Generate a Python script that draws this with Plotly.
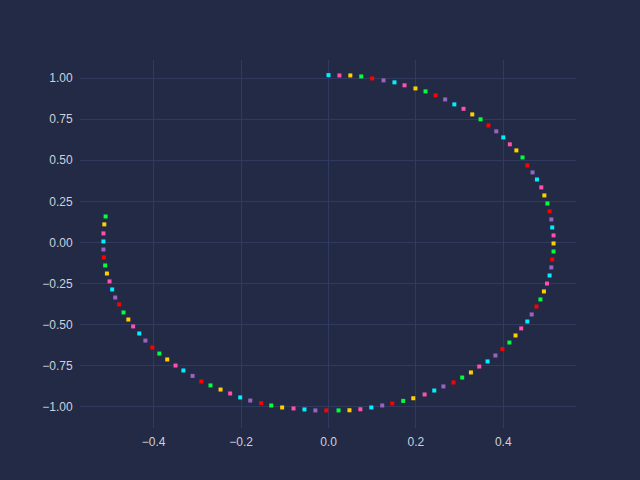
import plotly.graph_objects as go

x_vals = [0.000, 0.025, 0.050, 0.075, 0.100, 0.126, 0.151, 0.174, 0.199, 0.222,
          0.245, 0.267, 0.288, 0.309, 0.329, 0.348, 0.366, 0.384, 0.400, 0.415,
          0.430, 0.444, 0.455, 0.467, 0.477, 0.487, 0.494, 0.501, 0.506, 0.510,
          0.512, 0.515, 0.515, 0.515, 0.512, 0.510, 0.506, 0.500, 0.493, 0.485,
          0.476, 0.465, 0.455, 0.441, 0.428, 0.414, 0.398, 0.382, 0.364, 0.345,
          0.326, 0.306, 0.286, 0.263, 0.242, 0.220, 0.194, 0.171, 0.146, 0.123,
          0.098, 0.073, 0.048, 0.023, -0.005, -0.030, -0.055, -0.080, -0.106, -0.131,
          -0.154, -0.179, -0.202, -0.225, -0.247, -0.270, -0.291, -0.311, -0.332, -0.350,
          -0.369, -0.387, -0.403, -0.419, -0.433, -0.447, -0.458, -0.469, -0.479, -0.488,
          -0.495, -0.501, -0.507, -0.511, -0.514, -0.515, -0.515, -0.515, -0.513, -0.510]

y_vals = [1.018, 1.016, 1.016, 1.010, 0.998, 0.986, 0.974, 0.956, 0.937, 0.919,
          0.895, 0.870, 0.840, 0.813, 0.779, 0.749, 0.712, 0.676, 0.639, 0.597,
          0.560, 0.517, 0.469, 0.426, 0.383, 0.335, 0.286, 0.237, 0.189, 0.140,
          0.091, 0.043, -0.006, -0.055, -0.104, -0.152, -0.201, -0.250, -0.298, -0.347,
          -0.390, -0.438, -0.481, -0.523, -0.566, -0.609, -0.649, -0.688, -0.724, -0.755,
          -0.791, -0.822, -0.852, -0.876, -0.901, -0.925, -0.948, -0.964, -0.980, -0.992,
          -1.004, -1.015, -1.021, -1.022, -1.022, -1.022, -1.016, -1.010, -1.004, -0.992,
          -0.978, -0.962, -0.943, -0.919, -0.895, -0.870, -0.846, -0.812, -0.779, -0.749,
          -0.712, -0.676, -0.639, -0.597, -0.554, -0.511, -0.469, -0.426, -0.377, -0.335,
          -0.286, -0.237, -0.189, -0.140, -0.091, -0.043, 0.006, 0.055, 0.110, 0.158]

palette = ["#00f0ff", "#ff4fb0", "#ffd000", "#00ff3c", "#ff0000", "#9b62c0"]
point_colors = [palette[i % len(palette)] for i in range(len(x_vals))]

x_ticks = [-0.4, -0.2, 0.0, 0.2, 0.4]
x_tick_labels = ["\u22120.4", "\u22120.2", "0.0", "0.2", "0.4"]
y_ticks = [-1.0, -0.75, -0.5, -0.25, 0.0, 0.25, 0.5, 0.75, 1.0]
y_tick_labels = ["\u22121.00", "\u22120.75", "\u22120.50", "\u22120.25", "0.00",
                 "0.25", "0.50", "0.75", "1.00"]

bg = "#222a45"
grid = "#2f3a5e"

fig = go.Figure(go.Scatter(
    x=x_vals, y=y_vals, mode="markers",
    marker=dict(symbol="square", size=4, color=point_colors, line=dict(width=0)),
    showlegend=False,
))

fig.update_layout(
    width=640, height=480,
    paper_bgcolor=bg, plot_bgcolor=bg,
    margin=dict(l=80, r=64, t=60, b=52),
    font=dict(family="Liberation Sans, Arial, sans-serif", size=12, color="#cdd1dc"),
    xaxis=dict(range=[-0.5686, 0.5664], tickvals=x_ticks, ticktext=x_tick_labels,
               showgrid=True, gridcolor=grid, gridwidth=1, zeroline=False,
               showline=False, ticks="outside", ticklen=3,
               tickcolor="rgba(0,0,0,0)"),
    yaxis=dict(range=[-1.129, 1.110], tickvals=y_ticks, ticktext=y_tick_labels,
               showgrid=True, gridcolor=grid, gridwidth=1, zeroline=False,
               showline=False, ticks="outside", ticklen=4,
               tickcolor="rgba(0,0,0,0)"),
)

fig.write_html("out.html")
